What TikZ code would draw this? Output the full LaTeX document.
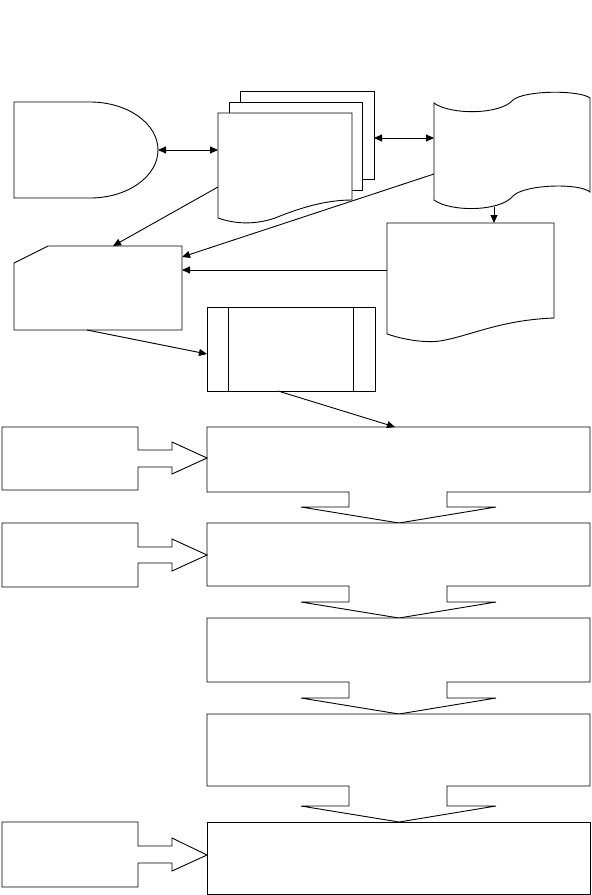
\documentclass[tikz,border=0pt]{standalone}
\usetikzlibrary{arrows.meta}
\tikzset{
  outline/.style={draw=black,line width=0.9pt,fill=white,line join=miter},
  conn/.style={draw=black,line width=0.9pt,-{Triangle[length=8pt,width=7pt]}},
  dconn/.style={draw=black,line width=0.9pt,{Triangle[length=8pt,width=7pt]}-{Triangle[length=8pt,width=7pt]}}
}
\begin{document}
\begin{tikzpicture}[x=1pt,y=-1pt]
\useasboundingbox (0,0) rectangle (592,895);

% delay shape
\path[outline] (14,102) -- (90,102) .. controls (127.6,102) and (158,123.5) .. (158,150)
  .. controls (158,176.5) and (127.6,198) .. (90,198) -- (14,198) -- cycle;
\coordinate (delayR) at (158,150);

% multi-document
\path[outline] (240,91) rectangle (374,179);
\path[outline] (229,102) rectangle (362,190);
\path[outline] (218,113) -- (352,113) -- (352,200)
  .. controls (325,200) and (300,208) .. (275,218)
  .. controls (255,225) and (235,224) .. (218,218) -- cycle;
\coordinate (mdL) at (218,150);
\coordinate (mdR) at (374,138);
\coordinate (mdLlow) at (218,187);

% punched tape
\path[outline] (434,103) .. controls (450,115) and (500,115) .. (513,100)
  .. controls (525,90) and (580,90) .. (590,98) -- (590,192)
  .. controls (580,183) and (525,184) .. (513,196)
  .. controls (500,212) and (450,212) .. (434,200) -- cycle;
\coordinate (tapeL) at (434,138);
\coordinate (tapeLlow) at (434,174);
\coordinate (tapeB) at (494,207);

% document (right)
\path[outline] (387,223) -- (554,223) -- (554,318)
  .. controls (500,320) and (470,336) .. (440,341)
  .. controls (425,343) and (405,340) .. (387,334) -- cycle;
\coordinate (docT) at (494,223);
\coordinate (docL) at (387,270);

% card
\path[outline] (14,263) -- (48,246) -- (182,246) -- (182,330) -- (14,330) -- cycle;
\coordinate (cardT) at (113,246);
\coordinate (cardR1) at (182,257);
\coordinate (cardR2) at (182,270);
\coordinate (cardB) at (87,330);

% predefined process
\path[outline] (207,307) rectangle (375,391);
\draw[line width=0.9pt] (228,307) -- (228,391) (353,307) -- (353,391);
\coordinate (subL) at (207,354);
\coordinate (subB) at (278,391);

% big process boxes with down block arrows
\path[outline] (207,427) -- (590,427) -- (590,492) -- (447,492) -- (447,507) -- (496,507)
  -- (399,523) -- (301,507) -- (349,507) -- (349,492) -- (207,492) -- cycle;
\coordinate (b1T) at (395,427);
\path[outline] (207,523) -- (590,523) -- (590,586) -- (447,586) -- (447,602) -- (496,602)
  -- (399,618) -- (301,602) -- (349,602) -- (349,586) -- (207,586) -- cycle;
\path[outline] (207,618) -- (590,618) -- (590,682) -- (447,682) -- (447,698) -- (496,698)
  -- (399,714) -- (301,698) -- (349,698) -- (349,682) -- (207,682) -- cycle;
\path[outline] (207,714) -- (590,714) -- (590,786) -- (447,786) -- (447,806) -- (496,806)
  -- (399,822) -- (301,806) -- (349,806) -- (349,786) -- (207,786) -- cycle;
\path[outline] (207,822) rectangle (590,894);

% left boxes with block arrows
\path[outline] (2,427) -- (138,427) -- (138,450) -- (172,450) -- (172,442) -- (207,458)
  -- (172,474) -- (172,467) -- (138,467) -- (138,490) -- (2,490) -- cycle;
\path[outline] (2,523) -- (138,523) -- (138,547) -- (172,547) -- (172,539) -- (207,555)
  -- (172,571) -- (172,563) -- (138,563) -- (138,587) -- (2,587) -- cycle;
\path[outline] (2,822) -- (138,822) -- (138,846) -- (172,846) -- (172,838) -- (207,855)
  -- (172,871) -- (172,863) -- (138,863) -- (138,887) -- (2,887) -- cycle;

% connectors
\draw[dconn] (delayR) -- (mdL);
\draw[dconn] (mdR) -- (tapeL);
\draw[conn] (tapeB) -- (docT);
\draw[conn] (mdLlow) -- (cardT);
\draw[conn] (tapeLlow) -- (cardR1);
\draw[conn] (docL) -- (cardR2);
\draw[conn] (cardB) -- (subL);
\draw[conn] (subB) -- (b1T);
\end{tikzpicture}
\end{document}
